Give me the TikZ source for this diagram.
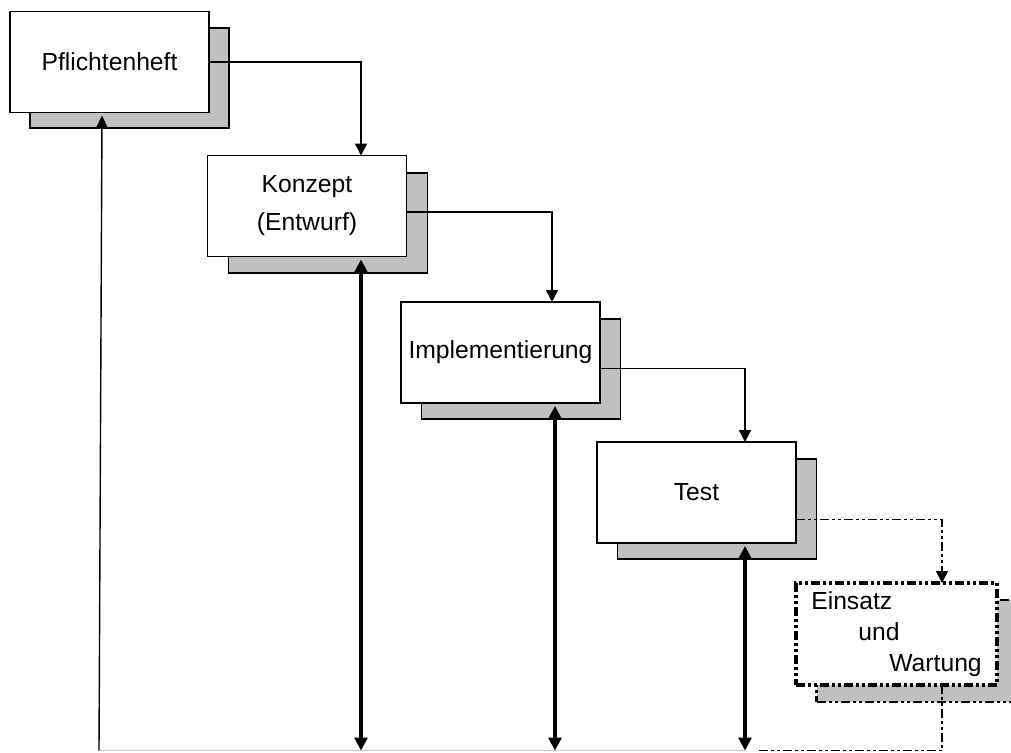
\documentclass[tikz,border=0pt]{standalone}
\usepackage{fontspec}
\setmainfont{Liberation Sans}
\usetikzlibrary{arrows.meta,calc}
\definecolor{shade}{HTML}{C0C0C0}
\definecolor{lightline}{HTML}{C8C8C8}
\begin{document}
\begin{tikzpicture}[x=1pt,y=-1pt,
  lbl/.style={font=\fontsize{24.7}{30}\selectfont},
  phase/.style={lbl, draw=black, line width=1.6pt, fill=white, minimum width=199pt, minimum height=101pt, inner sep=0pt, outer sep=0pt},
  shadowbox/.style={draw=black, line width=1.6pt, fill=shade, minimum width=199pt, minimum height=100pt, inner sep=0pt, outer sep=0pt},
  dashdotdot/.style={dash pattern=on 9pt off 3pt on 3pt off 3pt on 3pt off 3pt},
  conn/.style={line width=1.6pt, -{Triangle[length=12pt,width=12pt]}},
  both/.style={line width=3.2pt, {Triangle[length=13pt,width=13pt]}-{Triangle[length=13pt,width=13pt]}},
]
\useasboundingbox (0,0) rectangle (1011,752);
\fill[white] (0,0) rectangle (1011,752);
\begin{scope}
\clip (0,0) rectangle (1011,752);
% shadows
\node[shadowbox] (s1) at (129.5,78) {};
\node[shadowbox] (s2) at (328,223) {};
\node[shadowbox] (s3) at (521,369) {};
\node[shadowbox] (s4) at (717,509) {};
\node[shadowbox, dashdotdot, line width=2.4pt, minimum width=201pt, minimum height=102pt] (s5) at (917,651) {};
% boxes
\node[phase] (b1) at (109.5,62) {Pflichtenheft};
\node[phase, align=center, font=\fontsize{24.7}{38}\selectfont] (b2) at (307,206) {Konzept\\(Entwurf)};
\node[phase] (b3) at (500.5,352.5) {Implementierung};
\node[phase] (b4) at (696.5,492.5) {Test};
\node[phase, dashdotdot, line width=3.2pt, minimum width=201pt, minimum height=102pt, align=left, font=\fontsize{24.7}{31}\selectfont] (b5) at (896.5,634) {Einsatz\\\hspace*{47pt}und\\\hspace*{78pt}Wartung};
% helper coordinates
\coordinate (bl) at (99,750.5);
\coordinate (d2) at ($(b2.south)+(54,3)$);
\coordinate (d3) at ($(b3.south)+(54.5,3)$);
\coordinate (d4) at ($(b4.south)+(48.5,3)$);
\coordinate (e5) at ($(b5.south)+(45.5,0)$);
\coordinate (gEnd) at ($(d4 |- bl)+(12,0)$);
% flow connectors
\draw[conn] (b1.east) -| ([xshift=54pt]b2.north);
\draw[conn] ([yshift=-6pt]b2.east) -| ([xshift=51.5pt]b3.north);
\draw[conn] ([yshift=-16pt]b3.east) -| ([xshift=48.5pt]b4.north);
\draw[conn, dashdotdot] ([yshift=-27pt]b4.east) -| ([xshift=45.5pt]b5.north);
% bottom return line
\draw[line width=1.4pt, lightline] (bl) -- (d4 |- bl);
\draw[line width=1.8pt, dashdotdot] (e5) |- (gEnd);
\draw[line width=1.4pt, -{Triangle[length=12pt,width=11pt]}] (bl) -- ([xshift=-7.5pt,yshift=-3pt]b1.south);
% feedback double arrows
\draw[both] (d2) -- (d2 |- bl);
\draw[both] (d3) -- (d3 |- bl);
\draw[both] (d4) -- (d4 |- bl);
\end{scope}
\end{tikzpicture}
\end{document}
